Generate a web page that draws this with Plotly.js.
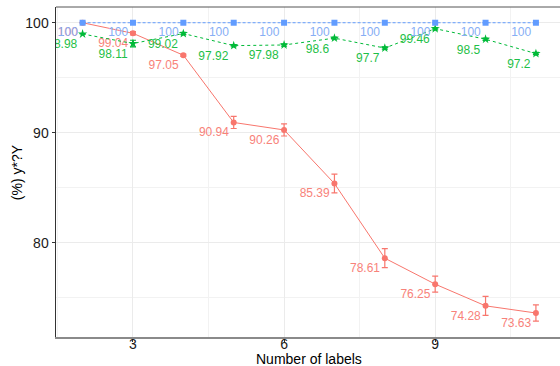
<!DOCTYPE html>
<html>
<head>
<meta charset="utf-8">
<script src="https://cdn.plot.ly/plotly-3.0.1.min.js"></script>
<style>html,body{margin:0;padding:0;background:#fff;}#chart{width:560px;height:366px;}</style>
</head>
<body>
<div id="chart"></div>
<script>
const labelsCount = [2, 3, 4, 5, 6, 7, 8, 9, 10, 11];
const redValues = [100, 99.04, 97.05, 90.94, 90.26, 85.39, 78.61, 76.25, 74.28, 73.63];
const redErr = [0, 0.15, 0.1, 0.55, 0.55, 0.85, 0.86, 0.73, 0.86, 0.73];
const greenValues = [98.98, 98.11, 99.02, 97.92, 97.98, 98.6, 97.7, 99.46, 98.5, 97.2];
const greenErr = [0, 0.3, 0.1, 0.1, 0.1, 0.1, 0.1, 0.1, 0.1, 0.1];
const blueValues = [100, 100, 100, 100, 100, 100, 100, 100, 100, 100];
const blueErr = [0, 0, 0, 0, 0, 0, 0, 0, 0, 0];
const xTicks = [3, 6, 9];
const yTicks = [80, 90, 100];
const xTitle = 'Number of labels';
const yTitle = '(%) y*?Y';

function fmt(v){ return String(v); }

function series(y, err, color, textColor, dash, symbol, msize){
  return {
    x: labelsCount, y: y, type: 'scatter', mode: 'lines+markers+text',
    line: {color: color, width: 1, dash: dash},
    marker: {color: color, symbol: symbol, size: msize},
    error_y: {type: 'data', array: err, visible: true, color: color, thickness: 1.2, width: 3},
    text: y.map(fmt), textposition: 'bottom left',
    textfont: {family: 'Liberation Sans, Arial, sans-serif', size: 12, color: textColor},
    cliponaxis: true, showlegend: false, hoverinfo: 'skip'
  };
}

const data = [
  series(redValues, redErr, '#F8766D', '#F8827A', 'solid', 'circle', 6),
  series(greenValues, greenErr, '#00BA38', '#1FBF48', 'dot', 'star', 7),
  series(blueValues, blueErr, '#619CFF', '#86AEF5', '3px,2px', 'square', 6)
];

const layout = {
  width: 560, height: 366,
  margin: {l: 56, r: 0, t: 7, b: 29},
  paper_bgcolor: '#fff', plot_bgcolor: '#fff',
  font: {family: 'Liberation Sans, Arial, sans-serif', color: '#1a1a1a'},
  xaxis: {
    range: [1.472, 11.478], tickvals: xTicks, ticktext: xTicks.map(String),
    showgrid: true, gridcolor: '#EBEBEB', gridwidth: 1,
    minor: {showgrid: true, gridcolor: '#F2F2F2', gridwidth: 1, dtick: 1.5, tick0: 1.5},
    zeroline: false, showline: true, linecolor: '#8a8a8a', linewidth: 2,
    ticks: 'outside', ticklen: 3, tickcolor: '#333', tickwidth: 1,
    ticklabelstandoff: -10,
    tickfont: {size: 14, color: '#1a1a1a'}, automargin: false
  },
  yaxis: {
    range: [71.45, 101.43], tickvals: yTicks, ticktext: yTicks.map(String),
    showgrid: true, gridcolor: '#EBEBEB', gridwidth: 1,
    minor: {showgrid: true, gridcolor: '#F2F2F2', gridwidth: 1, dtick: 5, tick0: 75},
    zeroline: false, showline: true, linecolor: '#333', linewidth: 1.5,
    ticks: 'outside', ticklen: 3, tickcolor: '#333', tickwidth: 1,
    tickfont: {size: 14, color: '#1a1a1a'}, automargin: false
  },
  annotations: [
    {text: xTitle, xref: 'paper', yref: 'paper', x: 0.502, y: -0.068, xanchor: 'center', yanchor: 'middle', showarrow: false, font: {size: 14, color: '#000'}},
    {text: yTitle, xref: 'paper', yref: 'paper', x: -0.077, y: 0.5, xanchor: 'center', yanchor: 'middle', textangle: -90, showarrow: false, font: {size: 14, color: '#000'}}
  ],
  shapes: [{type: 'line', xref: 'paper', yref: 'paper', x0: 0, x1: 1, y0: 1, y1: 1, line: {color: '#555', width: 1}}]
};

Plotly.newPlot('chart', data, layout, {displayModeBar: false, staticPlot: true});
</script>
</body>
</html>
